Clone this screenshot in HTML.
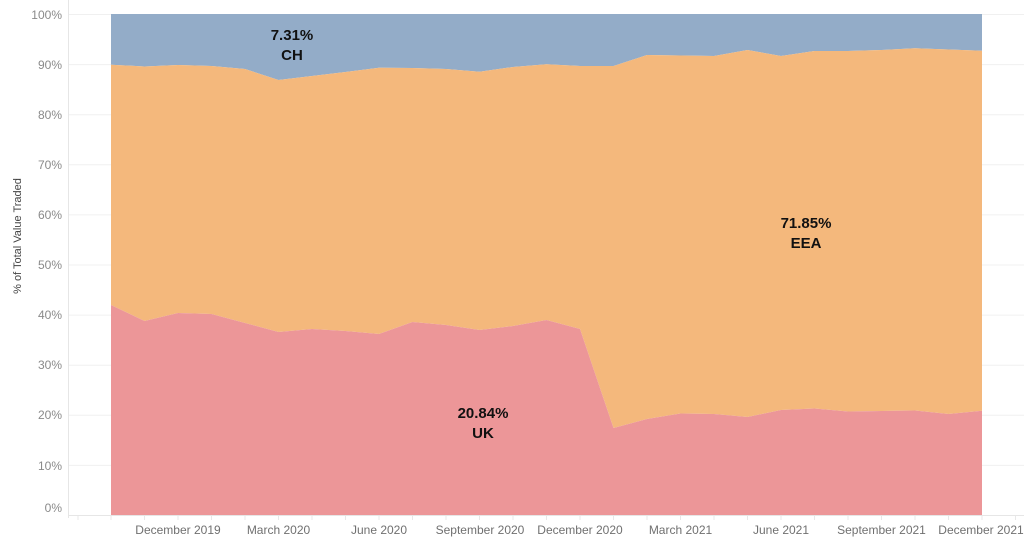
<!DOCTYPE html>
<html>
<head>
<meta charset="utf-8">
<style>
  html, body { margin:0; padding:0; background:#fff; }
  body { width:1024px; height:544px; overflow:hidden; font-family:"Liberation Sans", sans-serif; }
  svg { display:block; }
  .tick { font-size:12px; fill:#8a8a8a; }
  .xl { font-size:12px; fill:#707070; }
  .lbl { font-size:15px; font-weight:bold; fill:#111; }
</style>
</head>
<body>
<svg width="1024" height="544" viewBox="0 0 1024 544" xmlns="http://www.w3.org/2000/svg">
  <!-- gridlines -->
  <g stroke="#f0f0f0" stroke-width="1">
    <line x1="68" y1="14.5" x2="1024" y2="14.5"/>
    <line x1="68" y1="64.6" x2="1024" y2="64.6"/>
    <line x1="68" y1="114.7" x2="1024" y2="114.7"/>
    <line x1="68" y1="164.8" x2="1024" y2="164.8"/>
    <line x1="68" y1="214.9" x2="1024" y2="214.9"/>
    <line x1="68" y1="265" x2="1024" y2="265"/>
    <line x1="68" y1="315.1" x2="1024" y2="315.1"/>
    <line x1="68" y1="365.2" x2="1024" y2="365.2"/>
    <line x1="68" y1="415.3" x2="1024" y2="415.3"/>
    <line x1="68" y1="465.4" x2="1024" y2="465.4"/>
  </g>
  <!-- axis lines -->
  <line x1="68.5" y1="0" x2="68.5" y2="518" stroke="#e6e6e6" stroke-width="1"/>
  <line x1="68" y1="515.5" x2="1024" y2="515.5" stroke="#e6e6e6" stroke-width="1"/>

  <!-- CH (blue) -->
  <polygon fill="#93acc8" points="111,14 982,14 982,50.7 948.5,49.5 915,48.3 881.5,50 848,51 814.5,51 781,56 747.5,50 714,56 680.5,55.5 647,55 613.5,66 580,66 546.5,64.3 513,67 479.5,71.7 446,69 412.5,68 379,67.7 345.5,72 312,76 278.5,80 245,69 211.5,66 178,65 144.5,66.5 111,64.7"/>
  <!-- EEA (orange) -->
  <polygon fill="#f4b87c" points="111,64.7 144.5,66.5 178,65 211.5,66 245,69 278.5,80 312,76 345.5,72 379,67.7 412.5,68 446,69 479.5,71.7 513,67 546.5,64.3 580,66 613.5,66 647,55 680.5,55.5 714,56 747.5,50 781,56 814.5,51 848,51 881.5,50 915,48.3 948.5,49.5 982,50.7 982,410.7 948.5,414 915,410.5 881.5,411 848,411.5 814.5,408.5 781,410 747.5,417 714,414 680.5,413.5 647,419 613.5,428 580,329 546.5,320 513,326 479.5,330 446,325 412.5,322 379,334 345.5,331 312,329 278.5,332 245,323 211.5,314 178,313 144.5,321 111,305"/>
  <!-- UK (pink) -->
  <polygon fill="#ec9698" points="111,305 144.5,321 178,313 211.5,314 245,323 278.5,332 312,329 345.5,331 379,334 412.5,322 446,325 479.5,330 513,326 546.5,320 580,329 613.5,428 647,419 680.5,413.5 714,414 747.5,417 781,410 814.5,408.5 848,411.5 881.5,411 915,410.5 948.5,414 982,410.7 982,515 111,515"/>

  <!-- x ticks (monthly) -->
  <g stroke="#e8e8e8" stroke-width="1">
    <line x1="78" y1="516" x2="78" y2="520"/>
    <line x1="111" y1="516" x2="111" y2="520"/>
    <line x1="144.5" y1="516" x2="144.5" y2="520"/>
    <line x1="178" y1="516" x2="178" y2="520"/>
    <line x1="211.5" y1="516" x2="211.5" y2="520"/>
    <line x1="245" y1="516" x2="245" y2="520"/>
    <line x1="278.5" y1="516" x2="278.5" y2="520"/>
    <line x1="312" y1="516" x2="312" y2="520"/>
    <line x1="345.5" y1="516" x2="345.5" y2="520"/>
    <line x1="379" y1="516" x2="379" y2="520"/>
    <line x1="412.5" y1="516" x2="412.5" y2="520"/>
    <line x1="446" y1="516" x2="446" y2="520"/>
    <line x1="479.5" y1="516" x2="479.5" y2="520"/>
    <line x1="513" y1="516" x2="513" y2="520"/>
    <line x1="546.5" y1="516" x2="546.5" y2="520"/>
    <line x1="580" y1="516" x2="580" y2="520"/>
    <line x1="613.5" y1="516" x2="613.5" y2="520"/>
    <line x1="647" y1="516" x2="647" y2="520"/>
    <line x1="680.5" y1="516" x2="680.5" y2="520"/>
    <line x1="714" y1="516" x2="714" y2="520"/>
    <line x1="747.5" y1="516" x2="747.5" y2="520"/>
    <line x1="781" y1="516" x2="781" y2="520"/>
    <line x1="814.5" y1="516" x2="814.5" y2="520"/>
    <line x1="848" y1="516" x2="848" y2="520"/>
    <line x1="881.5" y1="516" x2="881.5" y2="520"/>
    <line x1="915" y1="516" x2="915" y2="520"/>
    <line x1="948.5" y1="516" x2="948.5" y2="520"/>
    <line x1="982" y1="516" x2="982" y2="520"/>
    <line x1="1015.5" y1="516" x2="1015.5" y2="520"/>
  </g>

  <!-- y tick labels -->
  <g class="tick" text-anchor="end">
    <text x="62" y="19">100%</text>
    <text x="62" y="69">90%</text>
    <text x="62" y="119">80%</text>
    <text x="62" y="169">70%</text>
    <text x="62" y="219">60%</text>
    <text x="62" y="269">50%</text>
    <text x="62" y="319">40%</text>
    <text x="62" y="369">30%</text>
    <text x="62" y="419">20%</text>
    <text x="62" y="470">10%</text>
    <text x="62" y="512">0%</text>
  </g>

  <!-- y axis title -->
  <text transform="translate(21,236) rotate(-90)" text-anchor="middle" style="font-size:11px; fill:#444;">% of Total Value Traded</text>

  <!-- x labels -->
  <g class="xl" text-anchor="middle">
    <text x="178" y="534">December 2019</text>
    <text x="278.5" y="534">March 2020</text>
    <text x="379" y="534">June 2020</text>
    <text x="480" y="534">September 2020</text>
    <text x="580" y="534">December 2020</text>
    <text x="680.5" y="534">March 2021</text>
    <text x="781" y="534">June 2021</text>
    <text x="881.5" y="534">September 2021</text>
    <text x="981" y="534">December 2021</text>
  </g>

  <!-- series labels -->
  <g class="lbl" text-anchor="middle">
    <text x="292" y="40">7.31%</text>
    <text x="292" y="60">CH</text>
    <text x="806" y="228">71.85%</text>
    <text x="806" y="248">EEA</text>
    <text x="483" y="418">20.84%</text>
    <text x="483" y="438">UK</text>
  </g>
</svg>
</body>
</html>
